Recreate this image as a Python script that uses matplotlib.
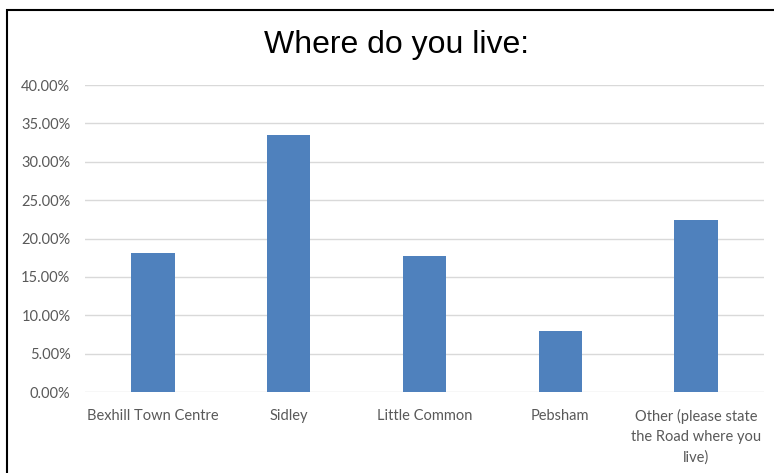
import matplotlib.pyplot as plt
from matplotlib.patches import Rectangle
from matplotlib.ticker import FuncFormatter

categories = ['Bexhill Town Centre', 'Sidley', 'Little Common', 'Pebsham',
              'Other (please state\nthe Road where you\nlive)']
values = [0.181, 0.335, 0.177, 0.080, 0.224]
yticks = [0.0, 0.05, 0.10, 0.15, 0.20, 0.25, 0.30, 0.35, 0.40]

W, H = 774, 473
fig = plt.figure(figsize=(W / 100, H / 100), dpi=100)
ax = fig.add_axes([85 / W, 1 - 392 / H, (764 - 85) / W, (392 - 85) / H])

x = range(len(categories))
ax.bar(x, values, width=0.32, color='#4f81bd', zorder=3)

ax.set_xlim(-0.5, len(categories) - 0.5)
ax.set_ylim(0, 0.40)
ax.set_yticks(yticks)
ax.yaxis.set_major_formatter(FuncFormatter(lambda v, p: '{:.2f}%'.format(v * 100)))
ax.set_xticks(list(x))
ax.set_xticklabels(categories, linespacing=1.55, va='top')

ax.grid(axis='y', color='#d9d9d9', linewidth=1.0, zorder=0)
for s in ax.spines.values():
    s.set_visible(False)
ax.tick_params(axis='both', length=0, labelsize=10.5, labelcolor='#595959')
ax.tick_params(axis='y', pad=10.5)
ax.tick_params(axis='x', pad=12)
for lab in ax.get_xticklabels() + ax.get_yticklabels():
    lab.set_fontfamily('Lato')

fig.text(396 / W, 1 - 45 / H, 'Where do you live:', ha='center', va='center',
         fontsize=23, family='Liberation Sans', color='black')

# chart frame (left and top edges visible, the rest runs off the image)
fig.patches.append(Rectangle((7 / W, -0.1), 1.2, 1 - 10 / H + 0.1,
                             transform=fig.transFigure, fill=False,
                             edgecolor='black', linewidth=1.5))

fig.savefig('out.png', dpi=100)
